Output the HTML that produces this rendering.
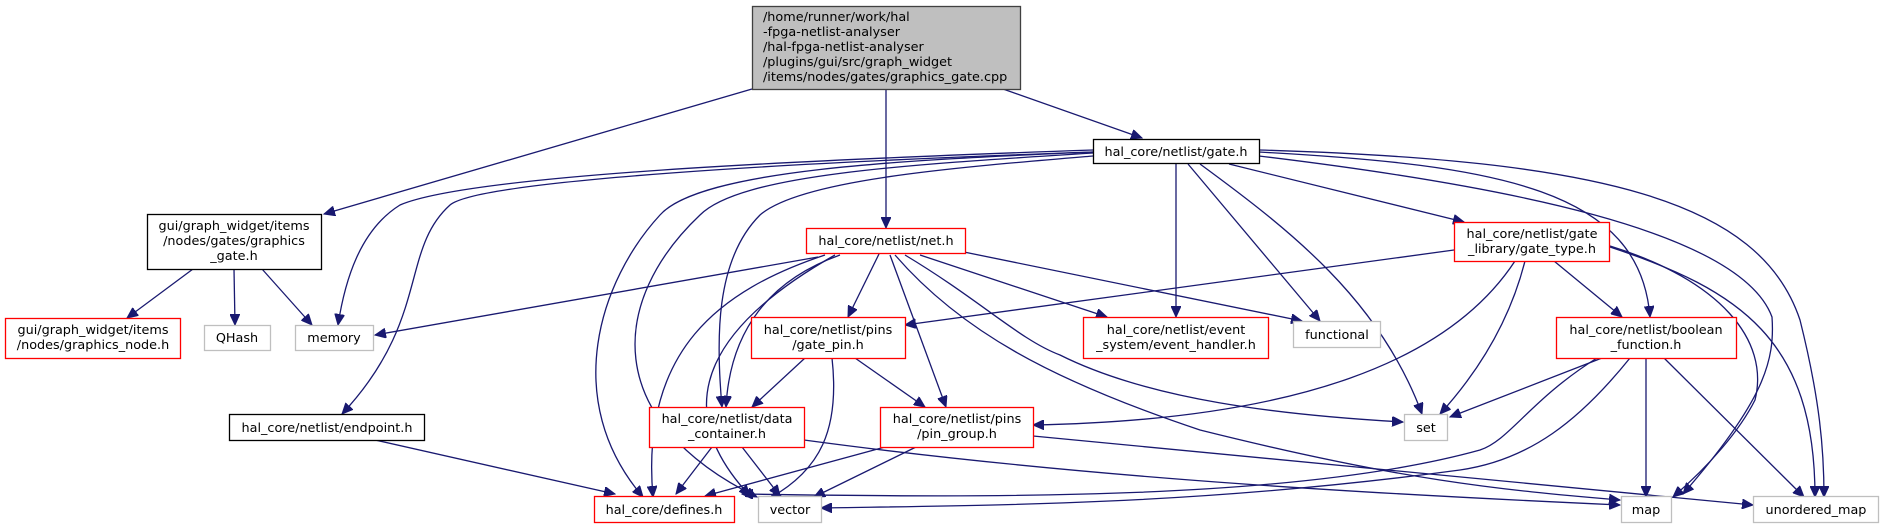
<!DOCTYPE html>
<html><head><meta charset="utf-8"><style>
html,body{margin:0;padding:0;background:#fff;width:1881px;height:528px;overflow:hidden}
svg{display:block}
text{font-family:"DejaVu Sans","Liberation Sans",sans-serif;font-size:12.8px;fill:#000}
.e{fill:none;stroke:#191970;stroke-width:1.3}
</style></head><body>
<svg width="1881" height="528" viewBox="0 0 1881 528" xmlns="http://www.w3.org/2000/svg">
<defs>
<marker id="a" markerUnits="userSpaceOnUse" markerWidth="12" markerHeight="10" refX="11" refY="5" orient="auto">
<path d="M0,0 L11,5 L0,10 Z" fill="#191970" stroke="#191970"/>
</marker>
</defs>
<g marker-end="url(#a)">
<path class="e" d="M752,89 L324,214"/>
<path class="e" d="M886,89 L886,228"/>
<path class="e" d="M1003,89 L1142,138"/>
<path class="e" d="M1093,150 C800,160 470,175 400,205 C360,230 345,280 338,325"/>
<path class="e" d="M1093,152 C800,162 480,180 450,205 C400,250 430,320 342,414"/>
<path class="e" d="M1093,152 C900,160 700,170 660,215 C600,280 560,400 643,497"/>
<path class="e" d="M1093,153 C900,165 740,175 700,215 C610,300 600,420 757,497"/>
<path class="e" d="M1093,156 C950,168 800,180 760,215 C715,260 716,340 722,407"/>
<path class="e" d="M1176,164 L1176,317"/>
<path class="e" d="M1188,164 L1320,321"/>
<path class="e" d="M1200,164 C1290,230 1380,300 1422,414"/>
<path class="e" d="M1229,164 L1464,222"/>
<path class="e" d="M1259,152 C1500,165 1640,190 1650,317"/>
<path class="e" d="M1259,156 C1500,185 1740,230 1772,317 C1775,360 1765,400 1683,494"/>
<path class="e" d="M1259,150 C1600,160 1760,200 1800,320 C1820,400 1824,450 1824,497"/>
<path class="e" d="M193,269 L127,318"/>
<path class="e" d="M234,269 L235,325"/>
<path class="e" d="M262,269 L312,325"/>
<path class="e" d="M375,440 L615,494"/>
<path class="e" d="M818,257 L375,335"/>
<path class="e" d="M879,254 L848,317"/>
<path class="e" d="M840,255 C770,280 730,330 726,407"/>
<path class="e" d="M825,255 C720,290 640,350 653,497"/>
<path class="e" d="M835,255 C720,320 660,400 750,496"/>
<path class="e" d="M890,255 L946,407"/>
<path class="e" d="M920,255 L1107,317"/>
<path class="e" d="M964,252 L1302,321"/>
<path class="e" d="M905,255 C980,300 1020,340 1060,355 C1150,400 1280,415 1403,422"/>
<path class="e" d="M895,255 C960,330 1050,380 1200,430 C1400,480 1500,490 1620,500"/>
<path class="e" d="M805,358 L752,407"/>
<path class="e" d="M855,358 L925,407"/>
<path class="e" d="M832,358 C840,430 820,470 770,498"/>
<path class="e" d="M712,447 L676,494"/>
<path class="e" d="M742,447 L780,496"/>
<path class="e" d="M804,440 C1100,480 1400,495 1620,505"/>
<path class="e" d="M885,447 L705,496"/>
<path class="e" d="M916,447 L814,497"/>
<path class="e" d="M1033,436 L1753,505"/>
<path class="e" d="M1515,261 C1450,360 1300,420 1033,425"/>
<path class="e" d="M1454,250 L905,325"/>
<path class="e" d="M1525,261 C1510,320 1480,370 1440,414"/>
<path class="e" d="M1554,261 L1622,317"/>
<path class="e" d="M1610,246 C1720,280 1770,340 1755,400 C1740,430 1710,465 1673,497"/>
<path class="e" d="M1610,247 C1740,290 1815,340 1815,497"/>
<path class="e" d="M1602,358 L1450,417"/>
<path class="e" d="M1597,358 C1530,400 1510,440 1480,450 C1300,500 1000,498 742,494"/>
<path class="e" d="M1630,358 C1580,420 1530,460 1460,470 C1200,505 1000,505 821,508"/>
<path class="e" d="M1646,358 L1646,497"/>
<path class="e" d="M1664,358 L1804,497"/>
</g>
<rect x="752.5" y="6.5" width="268" height="83" fill="#bfbfbf" stroke="#404040" stroke-width="1.3"/>
<text x="763" y="21">/home/runner/work/hal</text>
<text x="763" y="36">-fpga-netlist-analyser</text>
<text x="763" y="51">/hal-fpga-netlist-analyser</text>
<text x="763" y="66">/plugins/gui/src/graph_widget</text>
<text x="763" y="81">/items/nodes/gates/graphics_gate.cpp</text>

<g fill="#fff" stroke-width="1.3">
<rect x="1093.5" y="139.5" width="166" height="24" stroke="#000"/>
<rect x="147.5" y="214.5" width="174" height="55" stroke="#000"/>
<rect x="806.5" y="228.5" width="159" height="25" stroke="#ff0000"/>
<rect x="1454.5" y="222.5" width="155" height="39" stroke="#ff0000"/>
<rect x="5.5" y="318.5" width="175" height="40" stroke="#ff0000"/>
<rect x="204.5" y="325.5" width="66" height="25" stroke="#bfbfbf"/>
<rect x="295.5" y="325.5" width="78" height="25" stroke="#bfbfbf"/>
<rect x="751.5" y="317.5" width="154" height="41" stroke="#ff0000"/>
<rect x="1083.5" y="317.5" width="185" height="41" stroke="#ff0000"/>
<rect x="1293.5" y="321.5" width="87" height="26" stroke="#bfbfbf"/>
<rect x="1556.5" y="317.5" width="180" height="41" stroke="#ff0000"/>
<rect x="229.5" y="414.5" width="195" height="26" stroke="#000"/>
<rect x="649.5" y="407.5" width="155" height="40" stroke="#ff0000"/>
<rect x="880.5" y="407.5" width="153" height="40" stroke="#ff0000"/>
<rect x="1404.5" y="414.5" width="43" height="26" stroke="#bfbfbf"/>
<rect x="594.5" y="496.5" width="140" height="26" stroke="#ff0000"/>
<rect x="758.5" y="496.5" width="63" height="26" stroke="#bfbfbf"/>
<rect x="1621.5" y="496.5" width="50" height="26" stroke="#bfbfbf"/>
<rect x="1753.5" y="496.5" width="125" height="26" stroke="#bfbfbf"/>
</g>
<g text-anchor="middle">
<text x="1176" y="156">hal_core/netlist/gate.h</text>
<text x="234" y="230">gui/graph_widget/items</text>
<text x="234" y="245">/nodes/gates/graphics</text>
<text x="234" y="260">_gate.h</text>
<text x="886" y="245">hal_core/netlist/net.h</text>
<text x="1532" y="238">hal_core/netlist/gate</text>
<text x="1532" y="253">_library/gate_type.h</text>
<text x="93" y="334">gui/graph_widget/items</text>
<text x="93" y="349">/nodes/graphics_node.h</text>
<text x="237" y="342">QHash</text>
<text x="334" y="342">memory</text>
<text x="828" y="334">hal_core/netlist/pins</text>
<text x="828" y="349">/gate_pin.h</text>
<text x="1176" y="334">hal_core/netlist/event</text>
<text x="1176" y="349">_system/event_handler.h</text>
<text x="1337" y="339">functional</text>
<text x="1646" y="334">hal_core/netlist/boolean</text>
<text x="1646" y="349">_function.h</text>
<text x="327" y="432">hal_core/netlist/endpoint.h</text>
<text x="727" y="423">hal_core/netlist/data</text>
<text x="727" y="438">_container.h</text>
<text x="957" y="423">hal_core/netlist/pins</text>
<text x="957" y="438">/pin_group.h</text>
<text x="1426" y="432">set</text>
<text x="664" y="514">hal_core/defines.h</text>
<text x="790" y="514">vector</text>
<text x="1646" y="514">map</text>
<text x="1816" y="514">unordered_map</text>
</g>
</svg>
</body></html>
